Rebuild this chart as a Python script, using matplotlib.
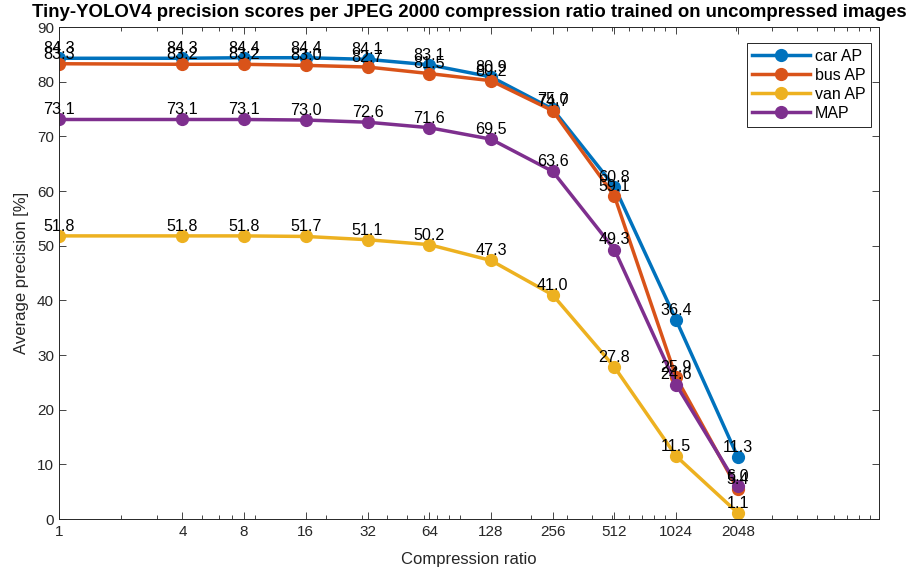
import numpy as np
import matplotlib.pyplot as plt

plt.rcParams['font.family'] = ['Liberation Sans', 'DejaVu Sans']

# compression ratios and AP scores (%)
ratios = [1, 4, 8, 16, 32, 64, 128, 256, 512, 1024, 2048]
car_ap = [84.3, 84.3, 84.4, 84.4, 84.1, 83.1, 80.9, 75.0, 60.8, 36.4, 11.3]
bus_ap = [83.3, 83.2, 83.2, 83.0, 82.7, 81.5, 80.2, 74.7, 59.1, 25.9, 5.4]
van_ap = [51.8, 51.8, 51.8, 51.7, 51.1, 50.2, 47.3, 41.0, 27.8, 11.5, 1.1]
map_ap = [73.1, 73.1, 73.1, 73.0, 72.6, 71.6, 69.5, 63.6, 49.3, 24.6, 6.0]

series = [("car AP", car_ap, "#0072BD"),
          ("bus AP", bus_ap, "#D95319"),
          ("van AP", van_ap, "#EDB120"),
          ("MAP", map_ap, "#7E2F8E")]

fig = plt.figure(figsize=(9.1, 5.77), dpi=100)
ax = fig.add_axes([0.0648, 0.1005, 0.9012, 0.8525])

for name, vals, col in series:
    ax.plot(ratios, vals, '-o', color=col, lw=2.5, ms=8.5, label=name)
for name, vals, col in series:
    for x, y in zip(ratios, vals):
        ax.annotate(f"{y:.1f}", (x, y), xytext=(0, 1.5), textcoords='offset points',
                    ha='center', va='bottom', fontsize=11.6, color='black')

ax.set_xscale('log')
ax.set_xlim(1, 1e4)
ax.set_ylim(0, 90)
ax.set_xticks(ratios)
ax.set_xticklabels([str(r) for r in ratios])
ax.set_yticks(np.arange(0, 91, 10))
ax.tick_params(axis='both', which='both', direction='in', top=True, right=True,
               colors='#262626', labelsize=11)
ax.tick_params(which='major', length=5, width=0.6)
ax.tick_params(which='minor', length=3, width=0.6)
ax.tick_params(axis='x', pad=4)
for s in ax.spines.values():
    s.set_color('#262626')
    s.set_linewidth(0.7)

ax.set_xlabel("Compression ratio", fontsize=12, color='#262626', labelpad=10)
ax.set_ylabel("Average precision [%]", fontsize=12, color='#262626', labelpad=6)
ax.set_title("Tiny-YOLOV4 precision scores per JPEG 2000 compression ratio trained on uncompressed images",
             fontsize=13.4, fontweight='bold', pad=7)

leg = ax.legend(loc='upper right', bbox_to_anchor=(0.99, 0.967), borderaxespad=0,
                fontsize=11.5, fancybox=False, edgecolor='#262626', framealpha=1,
                handlelength=3.6, borderpad=0.35, labelspacing=0.25, handletextpad=0.3)
leg.get_frame().set_linewidth(0.7)

fig.savefig("out.png", dpi=100)
